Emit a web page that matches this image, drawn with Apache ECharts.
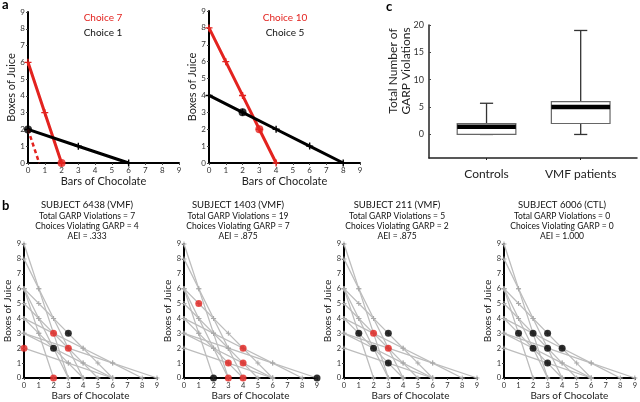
<!DOCTYPE html>
<html>
<head>
<meta charset="utf-8">
<script src="https://cdn.jsdelivr.net/npm/echarts@6/dist/echarts.min.js"></script>
<style>
html,body{margin:0;padding:0;background:#fff;}
#chart{width:640px;height:402px;}
</style>
</head>
<body>
<div id="chart"></div>
<script>
// ---------- Panel a data ----------
const aChoiceNames = ['Choice 7', 'Choice 1', 'Choice 10', 'Choice 5'];
const aChoiceXInt = [2, 6, 4, 8];
const aChoiceYInt = [6, 2, 8, 4];
const aChoicePick = [[2, 0], [0, 2], [3, 2], [2, 3]];
const aChoicePanel = [0, 0, 1, 1];
const aChoiceIsRed = [true, false, true, false];
const aDashedLine = [[0, 2], [0.667, 0]];

// ---------- Panel b data ----------
const budgetXInt = [6, 3, 6, 5, 8, 9, 2, 4, 6, 4, 3];
const budgetYInt = [2, 9, 6, 5, 4, 3, 6, 4, 3, 8, 6];
const subjectNames = ['SUBJECT 6438 (VMF)', 'SUBJECT 1403 (VMF)', 'SUBJECT 211 (VMF)', 'SUBJECT 6006 (CTL)'];
const totalViolations = ['7', '19', '5', '0'];
const choicesViolating = ['4', '7', '2', '0'];
const aeiValues = ['.333', '.875', '.875', '1.000'];
const redChoices = [
  [[0, 2], [2, 0], [2, 3], [3, 2]],
  [[1, 5], [4, 2], [3, 1], [4, 1], [3, 0], [4, 0]],
  [[2, 3], [3, 2]],
  []
];
const blackChoices = [
  [[3, 3], [2, 2]],
  [[2, 0], [9, 0]],
  [[1, 3], [3, 3], [2, 2], [3, 1]],
  [[1, 3], [2, 3], [3, 3], [2, 2], [3, 2], [4, 2], [3, 1]]
];
const axisTicks09 = [0, 1, 2, 3, 4, 5, 6, 7, 8, 9];

// ---------- Panel c data ----------
const boxCategories = ['Controls', 'VMF patients'];
const boxMin = [0, 0];
const boxQ1 = [0, 2];
const boxMedian = [1.4, 5];
const boxQ3 = [2, 6];
const boxMax = [5.7, 19];
const cTickValues = [0, 5, 10, 15, 20];

// ---------- styling ----------
const FONT = 'Lato, "Noto Sans", sans-serif';
const RED = '#e3231f';
const GRAY = '#bdbdbd';
const PLUS = 'path://M4,0H6V4H10V6H6V10H4V6H0V4H4Z';

function lattice(a, b) {
  const pts = [];
  for (let x = 0; x <= a; x++) {
    const y = b * (1 - x / a);
    if (Math.abs(y - Math.round(y)) < 1e-9) pts.push([x, Math.round(y)]);
  }
  return pts;
}

const grids = [];
const xAxes = [];
const yAxes = [];
const series = [];
const titles = [];

function axis09(gridIndex, name, nameGap, nameSize, labelSize, labelMargin) {
  return {
    type: 'value', gridIndex: gridIndex, min: 0, max: 9, interval: 1,
    axisLine: { show: true, onZero: false, lineStyle: { color: '#000', width: 2 } },
    axisTick: { show: true, length: 2, lineStyle: { color: '#444', width: 1 } },
    axisLabel: { fontSize: labelSize, color: '#333', margin: labelMargin, fontFamily: FONT,
      formatter: function (v) { return String(axisTicks09[v]); } },
    splitLine: { show: false },
    name: name, nameLocation: 'middle', nameGap: nameGap,
    nameTextStyle: { fontSize: nameSize, color: '#222', fontFamily: FONT }
  };
}

// Panel a grids
const aGridRects = [
  { left: 28, top: 12, width: 151, height: 151 },
  { left: 209, top: 11, width: 151, height: 152 }
];
aGridRects.forEach(function (r, i) {
  grids.push(r);
  xAxes.push(axis09(i, 'Bars of Chocolate', 13, 11, 8, 3));
  yAxes.push(axis09(i, 'Boxes of Juice', i === 0 ? 10 : 8, 11, 8, 3));
});

aChoiceNames.forEach(function (n, i) {
  const gi = aChoicePanel[i];
  const col = aChoiceIsRed[i] ? RED : '#000';
  series.push({
    type: 'line', xAxisIndex: gi, yAxisIndex: gi,
    data: lattice(aChoiceXInt[i], aChoiceYInt[i]),
    symbol: PLUS, symbolSize: 7, showSymbol: true,
    lineStyle: { color: col, width: 3 }, itemStyle: { color: col },
    silent: true, animation: false, z: 2
  });
  series.push({
    type: 'scatter', xAxisIndex: gi, yAxisIndex: gi,
    data: [aChoicePick[i]], symbol: 'circle', symbolSize: 8,
    itemStyle: { color: col }, silent: true, animation: false, z: 4
  });
});
series.push({
  type: 'line', xAxisIndex: 0, yAxisIndex: 0, data: aDashedLine,
  showSymbol: false, symbol: 'none',
  lineStyle: { color: RED, width: 2.5, type: [4, 3] }, silent: true, animation: false, z: 3
});

// Panel a titles
const aTitlePos = [[103, 13], [285, 13]];
[0, 1].forEach(function (p) {
  titles.push({ text: aChoiceNames[p * 2], left: aTitlePos[p][0], top: aTitlePos[p][1], textAlign: 'center',
    textStyle: { fontSize: 10, fontWeight: 'normal', color: RED, fontFamily: FONT } });
  titles.push({ text: aChoiceNames[p * 2 + 1], left: aTitlePos[p][0], top: aTitlePos[p][1] + 15, textAlign: 'center',
    textStyle: { fontSize: 10, fontWeight: 'normal', color: '#111', fontFamily: FONT } });
});

// Panel c grid
grids.push({ left: 429, top: 25, width: 208, height: 133 });
const cIdx = 2;
xAxes.push({
  type: 'value', gridIndex: cIdx, min: 0.389, max: 2.598,
  axisLine: { show: true, onZero: false, lineStyle: { color: '#222', width: 1.5 } },
  axisTick: { show: true, length: 2, customValues: [1, 2], lineStyle: { color: '#222' } },
  axisLabel: { customValues: [1, 2], fontSize: 12, color: '#222', margin: 10, fontFamily: FONT,
    formatter: function (v) { return boxCategories[Math.round(v) - 1]; } },
  splitLine: { show: false }
});
yAxes.push({
  type: 'value', gridIndex: cIdx, min: -4.3, max: 20,
  axisLine: { show: true, onZero: false, lineStyle: { color: '#222', width: 1.5 } },
  axisTick: { show: true, length: 2, inside: true, customValues: cTickValues, lineStyle: { color: '#444' } },
  axisLabel: { customValues: cTickValues, fontSize: 9, color: '#333', margin: 5, fontFamily: FONT },
  splitLine: { show: false }
});
const boxData = boxCategories.map(function (c, i) {
  return [i + 1, boxMin[i], boxQ1[i], boxMedian[i], boxQ3[i], boxMax[i]];
});
series.push({
  type: 'custom', xAxisIndex: cIdx, yAxisIndex: cIdx, data: boxData,
  encode: { x: 0, y: [1, 2, 3, 4, 5] }, silent: true, animation: false,
  renderItem: function (params, api) {
    const x = api.value(0);
    const pMin = api.coord([x, api.value(1)]);
    const pQ1 = api.coord([x, api.value(2)]);
    const pMed = api.coord([x, api.value(3)]);
    const pQ3 = api.coord([x, api.value(4)]);
    const pMax = api.coord([x, api.value(5)]);
    const halfW = api.size([0.623, 0])[0] / 2;
    const capW = api.size([0.14, 0])[0] / 2;
    const cx = pMed[0];
    const wStyle = { stroke: '#333', lineWidth: 1.3, fill: null };
    return {
      type: 'group',
      children: [
        { type: 'line', shape: { x1: cx, y1: pMax[1], x2: cx, y2: pQ3[1] }, style: wStyle },
        { type: 'line', shape: { x1: cx - capW, y1: pMax[1], x2: cx + capW, y2: pMax[1] }, style: wStyle },
        { type: 'line', shape: { x1: cx, y1: pQ1[1], x2: cx, y2: pMin[1] }, style: wStyle },
        { type: 'line', shape: { x1: cx - capW, y1: pMin[1], x2: cx + capW, y2: pMin[1] }, style: wStyle },
        { type: 'rect', shape: { x: cx - halfW, y: pQ3[1], width: halfW * 2, height: pQ1[1] - pQ3[1] },
          style: { stroke: '#666', lineWidth: 1.2, fill: '#fff' } },
        { type: 'line', shape: { x1: cx - halfW, y1: pMed[1], x2: cx + halfW, y2: pMed[1] },
          style: { stroke: '#000', lineWidth: 4.5 } }
      ]
    };
  }
});

// Panel b grids
const bLefts = [24, 184, 344, 504];
const bWidths = [133, 133, 133, 131];
const bTitleX = [87, 238, 397, 562];
subjectNames.forEach(function (s, k) {
  const gi = grids.length;
  grids.push({ left: bLefts[k], top: 244, width: bWidths[k], height: 134 });
  xAxes.push(axis09(gi, 'Bars of Chocolate', 13, 10, 7.5, 4));
  yAxes.push(axis09(gi, 'Boxes of Juice', 10, 10, 7.5, 3));
  budgetXInt.forEach(function (a, j) {
    series.push({
      type: 'line', xAxisIndex: gi, yAxisIndex: gi,
      data: lattice(a, budgetYInt[j]),
      symbol: PLUS, symbolSize: 5, showSymbol: true,
      lineStyle: { color: GRAY, width: 1.3 }, itemStyle: { color: '#aaa' },
      silent: true, animation: false, z: 2
    });
  });
  series.push({
    type: 'scatter', xAxisIndex: gi, yAxisIndex: gi, data: blackChoices[k],
    symbol: 'circle', symbolSize: 7, itemStyle: { color: '#000' }, silent: true, animation: false, z: 4
  });
  series.push({
    type: 'scatter', xAxisIndex: gi, yAxisIndex: gi, data: redChoices[k],
    symbol: 'circle', symbolSize: 7, itemStyle: { color: RED }, silent: true, animation: false, z: 4
  });
  titles.push({ text: s, left: bTitleX[k], top: 200, textAlign: 'center',
    textStyle: { fontSize: 9.5, fontWeight: 'normal', color: '#111', fontFamily: FONT } });
  titles.push({
    text: 'Total GARP Violations = ' + totalViolations[k] + '\nChoices Violating GARP = ' + choicesViolating[k] + '\nAEI = ' + aeiValues[k],
    left: bTitleX[k], top: 211, textAlign: 'center',
    textStyle: { fontSize: 8.5, fontWeight: 'normal', color: '#111', fontFamily: FONT, lineHeight: 10 } });
});

// Panel letters
titles.push({ text: 'a', left: 2, top: -2, textStyle: { fontSize: 13, fontWeight: 'bold', color: '#000', fontFamily: FONT } });
titles.push({ text: 'b', left: 2, top: 199, textStyle: { fontSize: 13, fontWeight: 'bold', color: '#000', fontFamily: FONT } });
titles.push({ text: 'c', left: 386, top: 0, textStyle: { fontSize: 13, fontWeight: 'bold', color: '#000', fontFamily: FONT } });

const chart = echarts.init(document.getElementById('chart'), null, { renderer: 'canvas' });
chart.setOption({
  backgroundColor: '#fff',
  animation: false,
  title: titles.map(function (t) { t.padding = 0; return t; }),
  grid: grids,
  xAxis: xAxes,
  yAxis: yAxes,
  series: series,
  graphic: [{
    type: 'text', x: 400, y: 71, rotation: Math.PI / 2,
    style: { text: 'Total Number of\nGARP Violations', textAlign: 'center', textVerticalAlign: 'middle',
      font: '12px ' + FONT, fill: '#222', lineHeight: 13 }
  }]
});
</script>
</body>
</html>
